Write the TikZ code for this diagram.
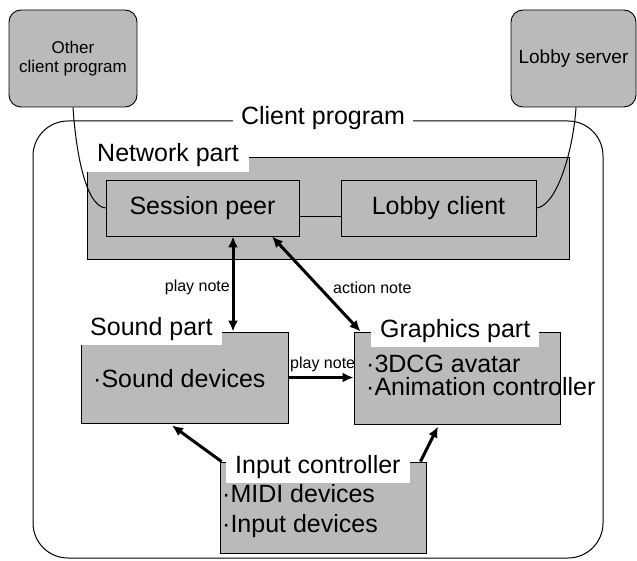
\documentclass[tikz,border=0pt]{standalone}
\usepackage{fontspec}
\setmainfont{Liberation Sans}
\usetikzlibrary{arrows.meta,calc}
\begin{document}
\begin{tikzpicture}[x=1pt,y=-1pt,
  graybox/.style={draw=black, line width=0.9pt, fill=black!27, inner sep=0pt},
  ext/.style={graybox, rounded corners=12pt},
  big/.style={font=\fontsize{25}{27}\selectfont},
  lab/.style={big, fill=white, inner ysep=4.5pt, anchor=base west},
  txt/.style={big, inner sep=0pt, anchor=base west},
  small/.style={font=\fontsize{16}{18}\selectfont, inner sep=0pt},
  conn/.style={line width=1pt},
  arr/.style={line width=3pt, -{Latex[length=11pt,width=10pt]}},
  dbl/.style={line width=3pt, {Latex[length=11pt,width=10pt]}-{Latex[length=11pt,width=10pt]}}
]
\useasboundingbox (0,0) rectangle (637,561);

% outer client program
\draw[conn, rounded corners=35pt] (33,121) rectangle (603,558);
\node[big, fill=white, inner xsep=8pt, inner ysep=2pt, anchor=base] (cp) at (323,125) {Client program};

% external boxes
\node[ext, minimum width=128pt, minimum height=97pt, align=center,
      font=\fontsize{17}{18.5}\selectfont] (ocp) at (73,58.5) {Other\\client program};
\node[ext, minimum width=125pt, minimum height=97pt,
      font=\fontsize{19}{20}\selectfont] (ls) at (573.5,58.5) {Lobby server};

% network part
\node[graybox, minimum width=482pt, minimum height=102pt] (net) at (328,208) {};
\node[lab, inner xsep=10pt] (netl) at (87,162) {Network part\hspace{1pt}};
\node[graybox, big, minimum width=193pt, minimum height=56pt] (sp) at (202.5,208) {Session peer};
\node[graybox, big, minimum width=195pt, minimum height=56pt] (lc) at (438.5,208) {Lobby client};
\draw[conn] ([yshift=-9pt]sp.east) -- ([yshift=-9pt]lc.west);

% links to external programs
\draw[conn] (ocp.south) .. controls +(3,45) and +(-20,-2) .. (sp.west);
\draw[conn] ([xshift=2.5pt]ls.south) .. controls +(-3,45) and +(20,-2) .. (lc.east);

% sound part
\node[graybox, minimum width=207pt, minimum height=91pt] (snd) at (184.5,377.5) {};
\node[lab, inner xsep=9pt] (sndl) at (81,335) {Sound part\hspace{4pt}};
\node[txt] (sndt) at (93,387) {·Sound devices};

% graphics part
\node[graybox, minimum width=206pt, minimum height=92pt] (gfx) at (457,378) {};
\node[lab, inner xsep=9pt] (gfxl) at (371,337) {Graphics part\hspace{4pt}};
\node[txt] (gfxa) at (366,372) {·3DCG avatar};
\node[txt] (gfxb) at (366,395) {·Animation controller};

% input controller
\node[graybox, minimum width=206pt, minimum height=91pt] (ic) at (323,507.5) {};
\node[lab, inner xsep=9pt] (icl) at (226,473) {Input controller\hspace{7pt}};
\node[txt] (ica) at (222,502) {·MIDI devices};
\node[txt] (icb) at (222,532) {·Input devices};

% arrows
\draw[dbl] ([xshift=30.5pt]sp.south) -- ([xshift=30.5pt]sp.south |- snd.north);
\draw[dbl] ([xshift=69.5pt]sp.south) -- ([xshift=7pt]gfx.north west);
\draw[arr] (snd.east) -- (snd.east -| gfx.west);
\draw[arr] ([xshift=2pt]ic.north west) -- ([xshift=-12.5pt,yshift=-2pt]snd.south);
\draw[arr] ([xshift=-6pt]ic.north east) -- ([xshift=-19pt,yshift=-2pt]gfx.south);

% arrow labels
\node[small, anchor=base east] (pn1) at (230,292) {play note};
\node[small, anchor=base west] (an) at (333,294) {action note};
\node[small, anchor=base west] (pn2) at (290,368) {play note};
\end{tikzpicture}
\end{document}
